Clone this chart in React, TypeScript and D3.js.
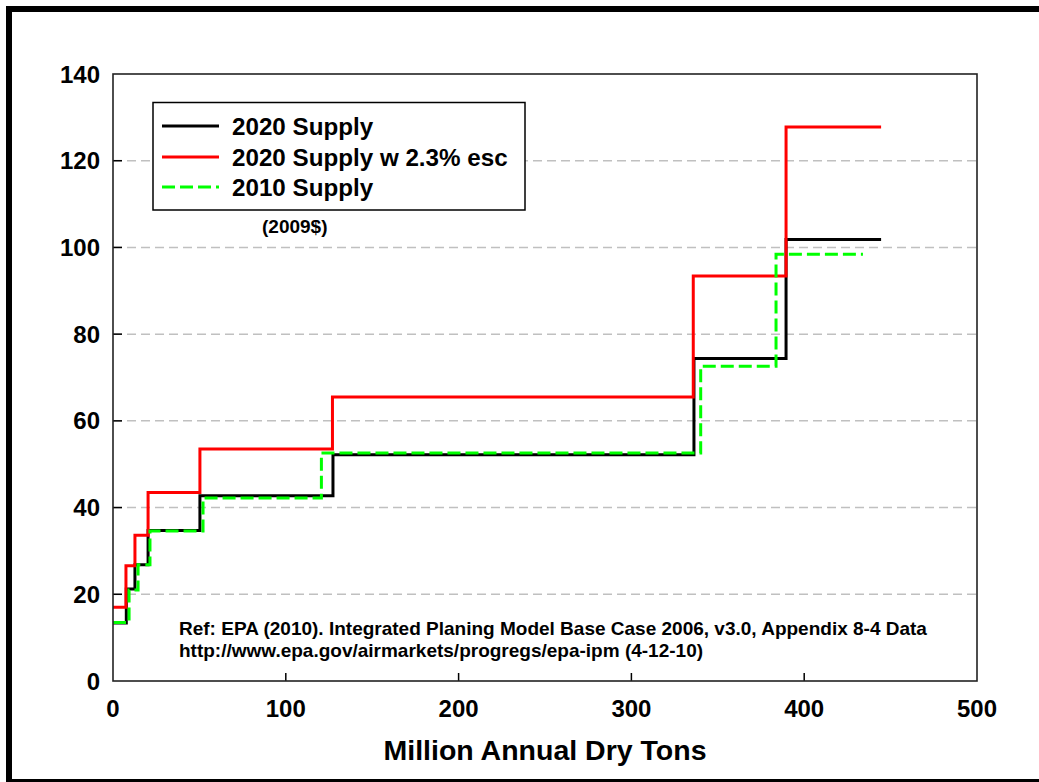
import React from "react";
import * as d3 from "d3";

const yTicks = [0, 20, 40, 60, 80, 100, 120, 140];
const xTicks = [0, 100, 200, 300, 400, 500];
const gridValues = [20, 40, 60, 80, 100, 120];

const supply2020X = [0, 7.7, 12.7, 20.3, 50.3, 127.3, 336.2, 389.5, 444.5];
const supply2020Y = [13.4, 21.2, 26.8, 34.7, 42.7, 52.2, 74.4, 101.8, 101.8];

const supplyEscX = [0, 7.5, 12.7, 20.3, 50.3, 127.0, 335.8, 389.5, 444.5];
const supplyEscY = [17.0, 26.6, 33.6, 43.5, 53.5, 65.5, 93.4, 127.8, 127.8];

const supply2010X = [0, 9.3, 14.5, 21.4, 52.1, 120.6, 340.1, 383.7, 434.0];
const supply2010Y = [13.5, 21.0, 26.8, 34.6, 42.2, 52.6, 72.6, 98.4, 98.4];

const legendLabels = ["2020 Supply", "2020 Supply w 2.3% esc", "2010 Supply"];
const refLines = [
  "Ref: EPA (2010). Integrated Planing Model Base Case 2006, v3.0, Appendix 8-4 Data",
  "http://www.epa.gov/airmarkets/progregs/epa-ipm (4-12-10)",
];

const W = 1039;
const H = 782;
const L = 113, R = 977, T = 74, B = 681;
const FONT = "'Liberation Sans', Arial, Helvetica, sans-serif";

export default function App() {
  const x = d3.scaleLinear().domain([0, 500]).range([L, R]);
  const y = d3.scaleLinear().domain([0, 140]).range([B, T]);
  const line = d3
    .line<[number, number]>()
    .x((d) => x(d[0]))
    .y((d) => y(d[1]))
    .curve(d3.curveStepAfter);

  const series = [
    { xs: supply2020X, ys: supply2020Y, color: "#000000", dash: undefined as string | undefined },
    { xs: supplyEscX, ys: supplyEscY, color: "#ff0000", dash: undefined as string | undefined },
    { xs: supply2010X, ys: supply2010Y, color: "#00ff00", dash: "13,5" },
  ];

  const legendY = [126, 157, 187];
  const legendColors = ["#000000", "#ff0000", "#00ff00"];
  const legendDash = [undefined, undefined, "13,5"];

  return (
    <svg
      width={W}
      height={H}
      style={{ position: "absolute", left: 0, top: 0, display: "block", background: "#fff" }}
      fontFamily={FONT}
    >
      <rect x={0} y={0} width={W} height={H} fill="#fff" />
      {/* outer frame */}
      <rect x={9} y={9} width={1040} height={773} fill="none" stroke="#000" strokeWidth={6} />

      {/* grid lines */}
      {gridValues.map((v) => (
        <line
          key={"g" + v}
          x1={L}
          x2={R}
          y1={y(v)}
          y2={y(v)}
          stroke="#c0c0c0"
          strokeWidth={1.5}
          strokeDasharray="9,5"
        />
      ))}

      {/* ticks */}
      {yTicks.slice(1, -1).map((v) => (
        <line key={"yt" + v} x1={L} x2={L + 9} y1={y(v)} y2={y(v)} stroke="#000" strokeWidth={1.5} />
      ))}
      {xTicks.slice(1, -1).map((v) => (
        <line key={"xt" + v} x1={x(v)} x2={x(v)} y1={B} y2={B - 8} stroke="#000" strokeWidth={1.5} />
      ))}

      {/* series */}
      {series.map((s, i) => (
        <path
          key={"s" + i}
          d={line(s.xs.map((xv, j) => [xv, s.ys[j]] as [number, number])) || ""}
          fill="none"
          stroke={s.color}
          strokeWidth={3}
          strokeDasharray={s.dash}
        />
      ))}

      {/* plot frame */}
      <rect x={L} y={T} width={R - L} height={B - T} fill="none" stroke="#222" strokeWidth={1.6} />

      {/* y tick labels */}
      {yTicks.map((v) => (
        <text
          key={"yl" + v}
          x={100}
          y={y(v) + 8.5}
          textAnchor="end"
          fontSize={24}
          fontWeight="bold"
        >
          {v}
        </text>
      ))}
      {/* x tick labels */}
      {xTicks.map((v) => (
        <text key={"xl" + v} x={x(v)} y={717} textAnchor="middle" fontSize={24} fontWeight="bold">
          {v}
        </text>
      ))}
      <text x={(L + R) / 2} y={760} textAnchor="middle" fontSize={28.5} fontWeight="bold">
        Million Annual Dry Tons
      </text>

      {/* legend */}
      <rect x={153} y={102.5} width={372} height={107.5} fill="#fff" stroke="#000" strokeWidth={1.5} />
      {legendLabels.map((lab, i) => (
        <g key={"lg" + i}>
          <line
            x1={162}
            x2={219}
            y1={legendY[i]}
            y2={legendY[i]}
            stroke={legendColors[i]}
            strokeWidth={3}
            strokeDasharray={legendDash[i]}
          />
          <text x={232} y={legendY[i] + 8.5} fontSize={24.2} fontWeight="bold">
            {lab}
          </text>
        </g>
      ))}
      <text x={262} y={233} fontSize={19} fontWeight="bold">
        (2009$)
      </text>

      {/* reference note */}
      {refLines.map((t, i) => (
        <text key={"ref" + i} x={179} y={635 + i * 22} fontSize={19} fontWeight="bold">
          {t}
        </text>
      ))}
    </svg>
  );
}
